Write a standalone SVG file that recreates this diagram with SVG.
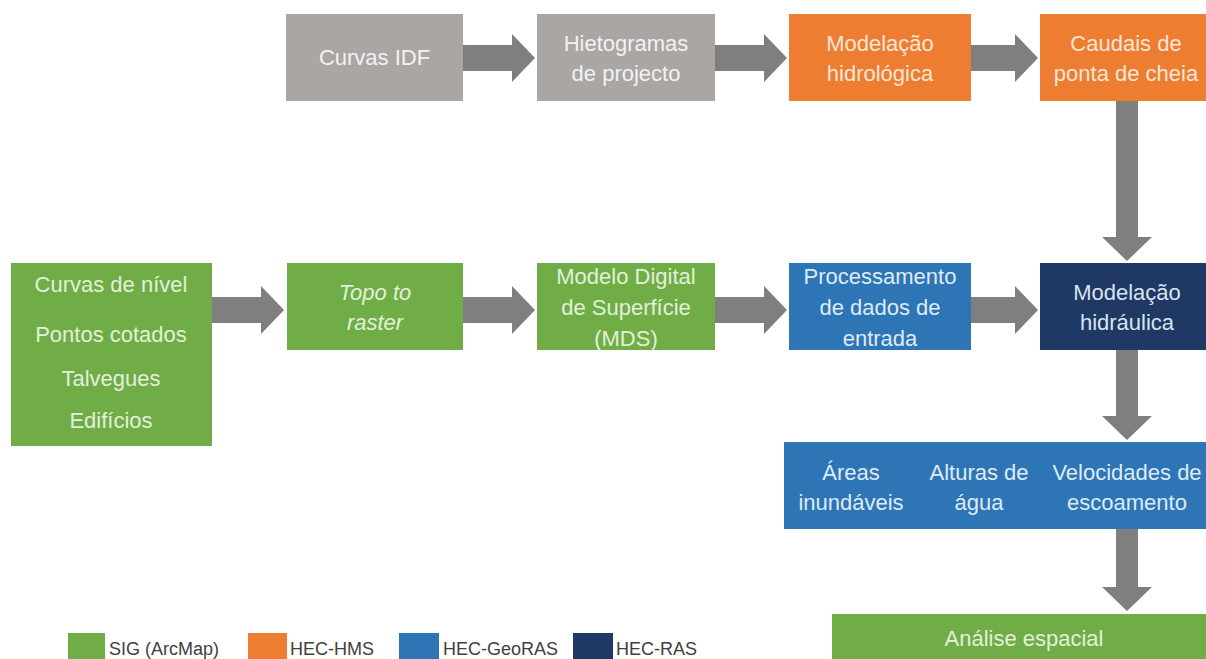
<svg xmlns="http://www.w3.org/2000/svg" width="1206" height="659" viewBox="0 0 1206 659">
<style>
text{font-family:"Liberation Sans",Arial,sans-serif;font-size:22px;text-anchor:middle}
.gray{fill:#A9A6A4}.orange{fill:#ED7D31}.green{fill:#70AD47}.blue{fill:#2E75B6}.navy{fill:#1F3864}
.tg{fill:#F2F2F2}.to{fill:#FBE5D6}.tgr{fill:#E2F0D9}.tb{fill:#DEEBF7}.tn{fill:#DAE3F3}
.arrow{fill:#7F7F7F}
.leg{font-size:18px;text-anchor:start;fill:#404040}
</style>
<rect width="1206" height="659" fill="#FFFFFF"/>
<g id="connectors">
<polygon class="arrow" points="463,45 512,45 512,34 535,58 512,82 512,71 463,71"/>
<polygon class="arrow" points="715,45 764,45 764,34 787,58 764,82 764,71 715,71"/>
<polygon class="arrow" points="971,45 1015,45 1015,34 1038,58 1015,82 1015,71 971,71"/>
<polygon class="arrow" points="212,297 261,297 261,286 284,310 261,334 261,323 212,323"/>
<polygon class="arrow" points="463,297 512,297 512,286 535,310 512,334 512,323 463,323"/>
<polygon class="arrow" points="715,297 764,297 764,286 787,310 764,334 764,323 715,323"/>
<polygon class="arrow" points="971,297 1015,297 1015,286 1038,310 1015,334 1015,323 971,323"/>
<polygon class="arrow" points="1116,101 1138,101 1138,237 1152,237 1127,261 1102,237 1116,237"/>
<polygon class="arrow" points="1116,350 1138,350 1138,416 1152,416 1127,440 1102,416 1116,416"/>
<polygon class="arrow" points="1116,529 1138,529 1138,587 1152,587 1127,611 1102,587 1116,587"/>
</g>
<g id="curvas-idf"><rect class="gray" x="286" y="14" width="177" height="87"/><text class="tg" x="374.5" y="65">Curvas IDF</text></g>
<g id="hietogramas"><rect class="gray" x="537" y="14" width="178" height="87"/><text class="tg" x="626" y="51">Hietogramas</text><text class="tg" x="626" y="81">de projecto</text></g>
<g id="modelacao-hidrologica"><rect class="orange" x="789" y="14" width="182" height="87"/><text class="to" x="880" y="51">Modelação</text><text class="to" x="880" y="81">hidrológica</text></g>
<g id="caudais"><rect class="orange" x="1040" y="14" width="166" height="87"/><text class="to" x="1126" y="51">Caudais de</text><text class="to" x="1126" y="81">ponta de cheia</text></g>
<g id="curvas-nivel"><rect class="green" x="11" y="263" width="201" height="183"/>
<text class="tgr" x="111" y="292">Curvas de nível</text>
<text class="tgr" x="111" y="342">Pontos cotados</text>
<text class="tgr" x="111" y="386">Talvegues</text>
<text class="tgr" x="111" y="428">Edifícios</text></g>
<g id="topo-to-raster"><rect class="green" x="287" y="263" width="176" height="87"/><text class="tgr" x="375" y="300" font-style="italic">Topo to</text><text class="tgr" x="375" y="330" font-style="italic">raster</text></g>
<g id="mds"><rect class="green" x="537" y="263" width="178" height="87"/><text class="tgr" x="626" y="284">Modelo Digital</text><text class="tgr" x="626" y="315">de Superfície</text><text class="tgr" x="626" y="346">(MDS)</text></g>
<g id="processamento"><rect class="blue" x="789" y="263" width="182" height="87"/><text class="tb" x="880" y="284">Processamento</text><text class="tb" x="880" y="315">de dados de</text><text class="tb" x="880" y="346">entrada</text></g>
<g id="modelacao-hidraulica"><rect class="navy" x="1040" y="263" width="166" height="87"/><text class="tn" x="1127" y="300">Modelação</text><text class="tn" x="1127" y="330">hidráulica</text></g>
<g id="resultados"><rect class="blue" x="784" y="442" width="422" height="87"/>
<text class="tb" x="851" y="480">Áreas</text><text class="tb" x="851" y="510">inundáveis</text>
<text class="tb" x="979" y="480">Alturas de</text><text class="tb" x="979" y="510">água</text>
<text class="tb" x="1127" y="480">Velocidades de</text><text class="tb" x="1127" y="510">escoamento</text></g>
<g id="analise-espacial"><rect class="green" x="832" y="614" width="374" height="45"/><text class="tgr" x="1024" y="646">Análise espacial</text></g>
<g id="legend">
<rect class="green" x="68" y="633" width="37" height="26"/><text class="leg" x="109" y="655">SIG (ArcMap)</text>
<rect class="orange" x="248" y="633" width="39" height="26"/><text class="leg" x="290" y="655">HEC-HMS</text>
<rect class="blue" x="399" y="633" width="40" height="26"/><text class="leg" x="443" y="655">HEC-GeoRAS</text>
<rect class="navy" x="573" y="633" width="40" height="26"/><text class="leg" x="616" y="655">HEC-RAS</text>
</g>
</svg>
